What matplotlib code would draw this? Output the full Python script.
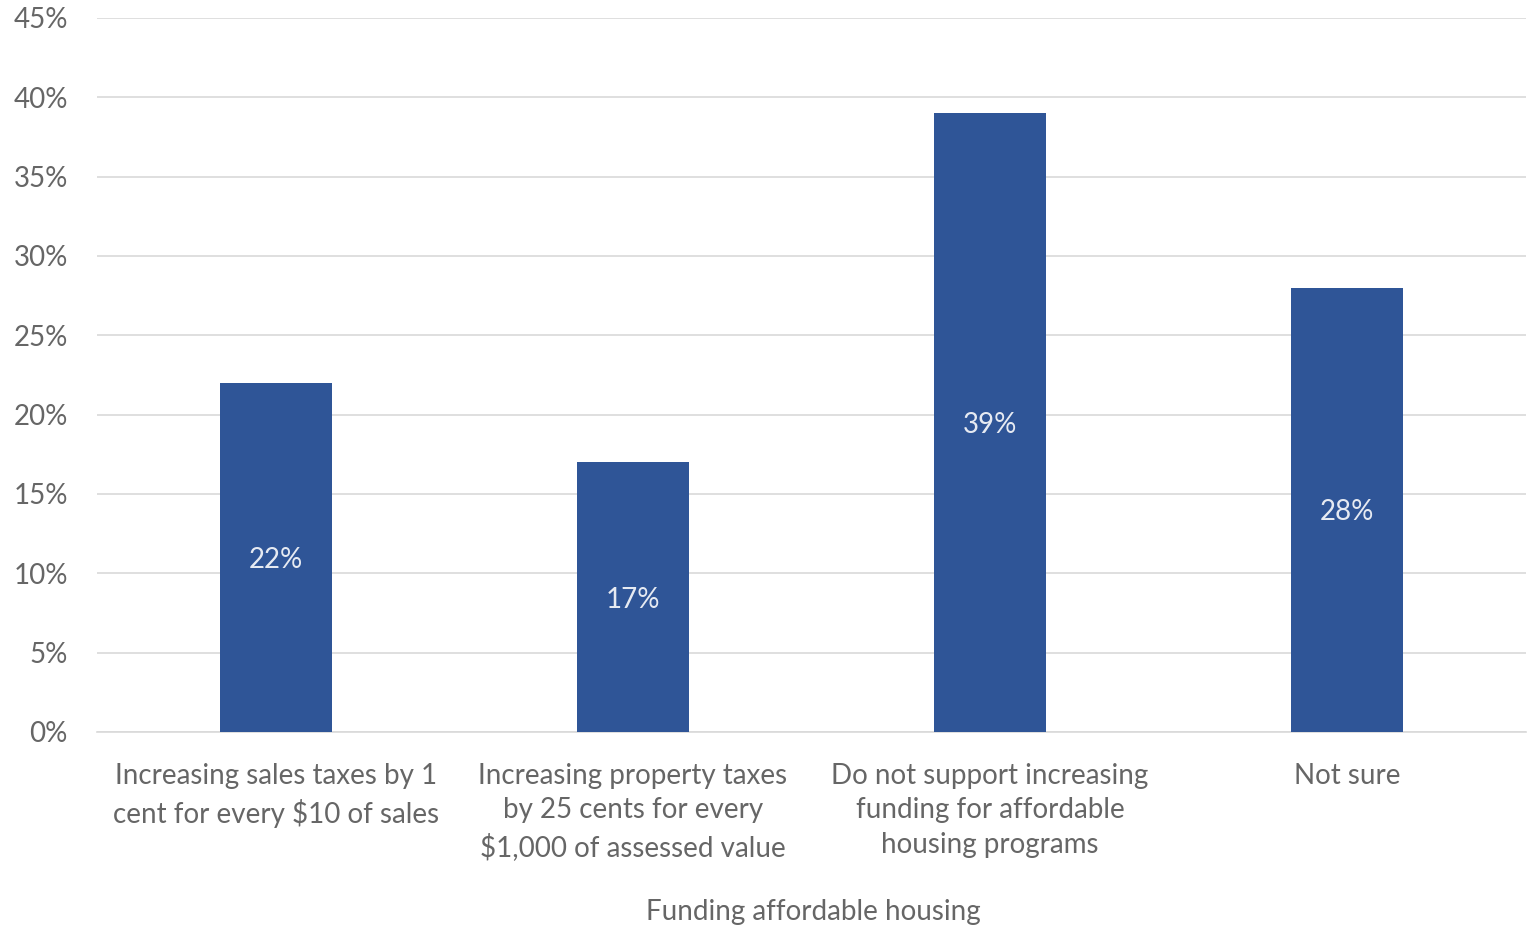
import numpy as np
import matplotlib.pyplot as plt
from matplotlib.ticker import PercentFormatter

# survey responses
categories = [
    "Increasing sales taxes by 1\ncent for every $10 of sales",
    "Increasing property taxes\nby 25 cents for every\n$1,000 of assessed value",
    "Do not support increasing\nfunding for affordable\nhousing programs",
    "Not sure",
]
shares = [22, 17, 39, 28]
yticks = [0, 5, 10, 15, 20, 25, 30, 35, 40, 45]

plt.rcParams['font.family'] = ['Lato', 'DejaVu Sans']

grey = '#666666'
blue = '#2F5597'

fig = plt.figure(figsize=(15.31, 9.27), dpi=100)
ax = fig.add_axes([0.0634, 0.2104, 0.9333, 0.7702])

x = np.arange(len(categories))
bars = ax.bar(x, shares, width=0.313, color=blue, zorder=3)

for b, v in zip(bars, shares):
    ax.text(b.get_x() + b.get_width() / 2, v / 2, f"{v}%",
            ha='center', va='center_baseline', color='#E6EAF2', fontsize=20)

ax.set_xlim(-0.5, len(categories) - 0.5)
ax.set_ylim(0, 45)
ax.set_yticks(yticks)
ax.yaxis.set_major_formatter(PercentFormatter(decimals=0))
ax.grid(axis='y', color='#D9D9D9', linewidth=1.2, zorder=0)

ax.set_xticks(x)
ax.set_xticklabels(categories, fontsize=20, color=grey, linespacing=1.42,
                   va='top')
ax.tick_params(axis='x', length=0, pad=22)
ax.tick_params(axis='y', length=0, pad=21, labelsize=20, labelcolor=grey)

for s in ['top', 'right', 'left']:
    ax.spines[s].set_visible(False)
ax.spines['bottom'].set_color('#D9D9D9')
ax.spines['bottom'].set_linewidth(1.2)

fig.text(0.531, 0.016, "Funding affordable housing", ha='center', va='center',
         fontsize=20, color=grey)

plt.savefig('out.png')
